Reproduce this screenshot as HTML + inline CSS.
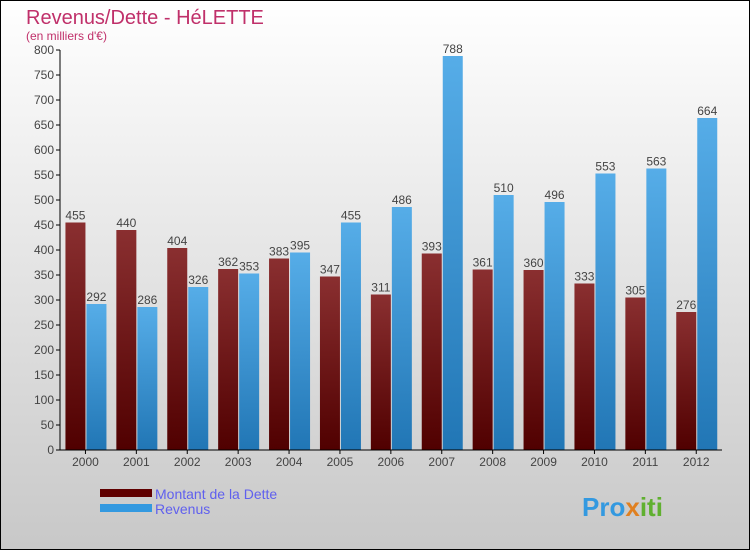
<!DOCTYPE html>
<html><head><meta charset="utf-8"><style>
body{margin:0}
#c{position:relative;width:750px;height:550px;}
svg text{font-family:"Liberation Sans",sans-serif}
</style></head><body>
<div id="c">
<svg id="s" width="750" height="550" xmlns="http://www.w3.org/2000/svg">
<defs>
<linearGradient id="bg" x1="0" y1="0" x2="0" y2="1"><stop offset="0" stop-color="#ffffff"/><stop offset="1" stop-color="#c8c8c8"/></linearGradient>
<linearGradient id="gd" x1="0" y1="0" x2="0" y2="1"><stop offset="0" stop-color="#8a2f30"/><stop offset="1" stop-color="#500000"/></linearGradient>
<linearGradient id="gr" x1="0" y1="0" x2="0" y2="1"><stop offset="0" stop-color="#56ade8"/><stop offset="1" stop-color="#2176b5"/></linearGradient>
</defs>
<rect x="0.5" y="0.5" width="749" height="549" fill="url(#bg)" stroke="#000"/>
<text x="26" y="24" font-size="20" fill="#c0306a">Revenus/Dette - HéLETTE</text>
<text x="26" y="40" font-size="12" fill="#c0306a">(en milliers d'€)</text>
<g id="plot"></g>
<rect x="100" y="489" width="52" height="8" fill="#600000"/>
<text x="155" y="499" font-size="14" fill="#6060ee">Montant de la Dette</text>
<rect x="100" y="504" width="52" height="8" fill="#3399e0"/>
<text x="155" y="514" font-size="14" fill="#6060ee">Revenus</text>
<text x="582" y="516" font-size="26" font-weight="bold" fill="#3399e0">Pro<tspan fill="#e08020">x</tspan><tspan fill="#60b030">iti</tspan></text>
</svg></div>
<script>
const years=["2000","2001","2002","2003","2004","2005","2006","2007","2008","2009","2010","2011","2012"];
const dette=[455,440,404,362,383,347,311,393,361,360,333,305,276];
const revenus=[292,286,326,353,395,455,486,788,510,496,553,563,664];
const ticks=[0,50,100,150,200,250,300,350,400,450,500,550,600,650,700,750,800];
const NS="http://www.w3.org/2000/svg";
const g=document.getElementById('plot');
const x0=60,step=50.9,yb=450,ymax=800,ph=400;
const y=v=>yb-v/ymax*ph;
function el(t,a){const e=document.createElementNS(NS,t);for(const k in a)e.setAttribute(k,a[k]);g.appendChild(e);return e;}
ticks.forEach(t=>{
 const l=el('line',{x1:56,x2:60,y1:y(t),y2:y(t),stroke:'#000'});
 
 
 const tx=el('text',{x:54,y:y(t)+4,'font-size':12,'text-anchor':'end',fill:'#444'});tx.textContent=t;
 
 
});
years.forEach((yr,i)=>{
 const c=x0+step*(i+0.5);
 const b1=el('rect',{x:c-20,y:y(dette[i]),width:20,height:yb-y(dette[i]),fill:'url(#gd)'});
 
 
 const b2=el('rect',{x:c+1,y:y(revenus[i]),width:20,height:yb-y(revenus[i]),fill:'url(#gr)'});
 
 
 const t1=el('text',{x:c-10,y:y(dette[i])-3,'font-size':12,'text-anchor':'middle',fill:'#444'});t1.textContent=dette[i];
 
 
 const t2=el('text',{x:c+11,y:y(revenus[i])-3,'font-size':12,'text-anchor':'middle',fill:'#444'});t2.textContent=revenus[i];
 
 
 const tk=el('line',{x1:c,x2:c,y1:yb,y2:yb+4,stroke:'#000'});
 
 
 const xl=el('text',{x:c,y:yb+16,'font-size':12,'text-anchor':'middle',fill:'#444'});xl.textContent=yr;
 
 
});
const ya=el('line',{x1:60,x2:60,y1:50,y2:yb,stroke:'#000'});


const xa=el('line',{x1:60,x2:722,y1:yb,y2:yb,stroke:'#000'});


</script>
</body></html>
